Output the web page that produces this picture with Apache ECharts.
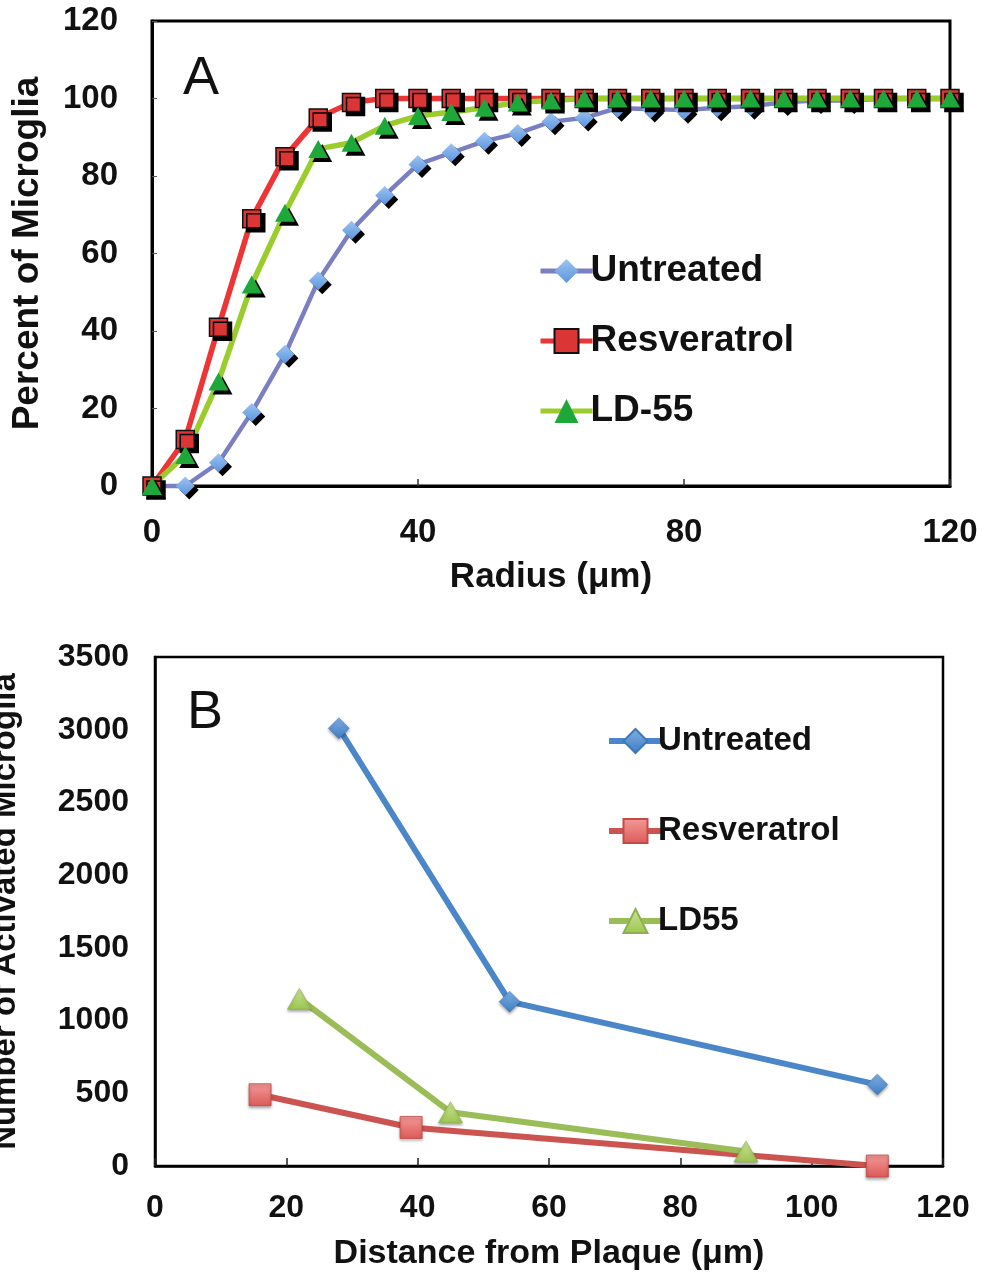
<!DOCTYPE html>
<html>
<head>
<meta charset="utf-8">
<script src="https://cdn.jsdelivr.net/npm/echarts@6/dist/echarts.min.js"></script>
<style>
html,body{margin:0;padding:0;background:#fff;}
#chart{width:986px;height:1277px;}
</style>
</head>
<body>
<div id="chart"></div>
<script>
// ---- Panel A data ----
var radiusA = [0,5,10,15,20,25,30,35,40,45,50,55,60,65,70,75,80,85,90,95,100,105,110,115,120];
var untreatedA = [0,0,6,19,34,53,66,75,83,86,89,91,94,95,97.5,97.3,97,97.6,98,99,99.5,99.5,100,100,100];
var resveratrolA = [0,12,41,69,85,95,99,100,100,100,100,100,100,100,100,100,100,100,100,100,100,100,100,100,100];
var ld55A = [0,8,27,52,70.5,87,88.6,93,95.5,96.5,97.6,99,99.5,100,100,100,100,100,100,100,100,100,100,100,100];
var xTicksA = [0,40,80,120];
var yTicksA = [0,20,40,60,80,100,120];

// ---- Panel B data ----
var untreatedBx = [28,54,110];
var untreatedBy = [3010,1130,560];
var resveratrolBx = [16,39,110];
var resveratrolBy = [490,265,0];
var ld55Bx = [22,45,90];
var ld55By = [1150,370,100];

var seriesNamesA = ['Untreated','Resveratrol','LD-55'];
var seriesNamesB = ['Untreated','Resveratrol','LD55'];

function pairs(xs, ys){ return xs.map(function(x,i){ return [x, ys[i]]; }); }
function plain(v){ return String(v); }

var FONT = '"Liberation Sans", Arial, Helvetica, sans-serif';
var shadowA = {shadowColor:'#000', shadowBlur:0, shadowOffsetX:4, shadowOffsetY:4};

var chart = echarts.init(document.getElementById('chart'), null, {renderer:'canvas'});

var option = {
  backgroundColor:'#fff',
  animation:false,
  textStyle:{fontFamily:FONT},
  grid:[
    {left:152, top:21, width:798, height:465, show:true, borderColor:'#000', borderWidth:3, backgroundColor:'#fff', containLabel:false, outerBoundsMode:'none'},
    {left:155, top:657, width:788, height:509, show:true, borderColor:'#000', borderWidth:2.5, backgroundColor:'#fff', containLabel:false, outerBoundsMode:'none'}
  ],
  xAxis:[
    {type:'value', gridIndex:0, min:0, max:120, interval:40,
     name:'Radius (\u03bcm)', nameLocation:'middle', nameGap:74,
     nameTextStyle:{fontSize:35, fontWeight:'bold', color:'#111', fontFamily:FONT},
     axisLine:{show:true, lineStyle:{color:'#000', width:3}},
     axisTick:{show:true, inside:true, length:7, lineStyle:{color:'#333', width:1.5}},
     axisLabel:{fontSize:33, fontWeight:'bold', color:'#111', margin:30, fontFamily:FONT, formatter:plain},
     splitLine:{show:false}},
    {type:'value', gridIndex:1, min:0, max:120, interval:20,
     name:'Distance from Plaque (\u03bcm)', nameLocation:'middle', nameGap:71,
     nameTextStyle:{fontSize:34, fontWeight:'bold', color:'#111', fontFamily:FONT},
     axisLine:{show:true, lineStyle:{color:'#000', width:2.5}},
     axisTick:{show:true, inside:true, length:8, lineStyle:{color:'#222', width:1.5}},
     axisLabel:{fontSize:32, fontWeight:'bold', color:'#111', margin:26, fontFamily:FONT, formatter:plain},
     splitLine:{show:false}}
  ],
  yAxis:[
    {type:'value', gridIndex:0, min:0, max:120, interval:20,
     name:'Percent of Microglia', nameLocation:'middle', nameGap:106, nameRotate:90,
     nameTextStyle:{fontSize:37, fontWeight:'bold', color:'#111', fontFamily:FONT},
     axisLine:{show:true, lineStyle:{color:'#000', width:3}},
     axisTick:{show:true, inside:true, length:5, lineStyle:{color:'#555', width:1}},
     axisLabel:{fontSize:33, fontWeight:'bold', color:'#111', margin:34, fontFamily:FONT, formatter:plain},
     splitLine:{show:false}},
    {type:'value', gridIndex:1, min:0, max:3500, interval:500,
     name:'Number of Activated Microglia', nameLocation:'middle', nameGap:133, nameRotate:90,
     nameTextStyle:{fontSize:33, fontWeight:'bold', color:'#111', fontFamily:FONT},
     axisLine:{show:true, lineStyle:{color:'#000', width:2.5}},
     axisTick:{show:false},
     axisLabel:{fontSize:32, fontWeight:'bold', color:'#111', margin:26, fontFamily:FONT, formatter:plain},
     splitLine:{show:false}}
  ],
  legend:[
    {orient:'vertical', left:533, top:246, itemWidth:52, itemHeight:30, itemGap:30,
     data:['A:'+seriesNamesA[0],'A:'+seriesNamesA[1],'A:'+seriesNamesA[2]],
     formatter:function(n){return n.replace(/^A:/,'');},
     lineStyle:{width:5},
     itemStyle:{shadowBlur:0, shadowOffsetX:0, shadowOffsetY:0, shadowColor:'rgba(0,0,0,0)'},
     textStyle:{fontSize:37, fontWeight:'bold', color:'#111', lineHeight:40, fontFamily:FONT, padding:[0,0,0,-7]}},
    {orient:'vertical', left:601, top:717, itemWidth:53, itemHeight:30, itemGap:52,
     data:['B:'+seriesNamesB[0],'B:'+seriesNamesB[1],'B:'+seriesNamesB[2]],
     formatter:function(n){return n.replace(/^B:/,'');},
     lineStyle:{width:6},
     textStyle:{fontSize:33, fontWeight:'bold', color:'#111', lineHeight:38, fontFamily:FONT, padding:[0,0,0,-9]}}
  ],
  graphic:[
    {type:'text', left:183, top:52, style:{text:'A', font:'54px '+FONT, fill:'#111'}},
    {type:'text', left:187, top:686, style:{text:'B', font:'54px '+FONT, fill:'#111'}}
  ],
  series:[
    {name:'A:'+seriesNamesA[0], type:'line', xAxisIndex:0, yAxisIndex:0, clip:false,
     data:pairs(radiusA, untreatedA), symbol:'diamond', symbolSize:[19,19],
     lineStyle:{color:'#7a7fc2', width:4.5},
     itemStyle:Object.assign({color:new echarts.graphic.LinearGradient(0,0,0,1,[{offset:0,color:'#9cc4f2'},{offset:1,color:'#5d95dc'}]), borderWidth:0}, shadowA)},
    {name:'A:'+seriesNamesA[1], type:'line', xAxisIndex:0, yAxisIndex:0, clip:false,
     data:pairs(radiusA, resveratrolA), symbol:'rect', symbolSize:18,
     lineStyle:{color:'#ee3535', width:5.5},
     itemStyle:Object.assign({color:'#dc3535', borderColor:'#111', borderWidth:1.5}, shadowA)},
    {name:'A:'+seriesNamesA[2], type:'line', xAxisIndex:0, yAxisIndex:0, clip:false,
     data:pairs(radiusA, ld55A), symbol:'triangle', symbolSize:[20,18],
     lineStyle:{color:'#9acd2c', width:5.5},
     itemStyle:Object.assign({color:'#1fa83a', borderWidth:0}, shadowA)},
    {name:'B:'+seriesNamesB[0], type:'line', xAxisIndex:1, yAxisIndex:1, clip:false,
     data:pairs(untreatedBx, untreatedBy), symbol:'diamond', symbolSize:[21,21],
     lineStyle:{color:'#4a86c8', width:6},
     itemStyle:{color:new echarts.graphic.LinearGradient(0,0,0,1,[{offset:0,color:'#7fb0e6'},{offset:1,color:'#3f7cc0'}]), borderColor:'#3f78b8', borderWidth:0.5, shadowColor:'rgba(0,0,0,0.35)', shadowBlur:3, shadowOffsetY:2}},
    {name:'B:'+seriesNamesB[1], type:'line', xAxisIndex:1, yAxisIndex:1, clip:false,
     data:pairs(resveratrolBx, resveratrolBy), symbol:'rect', symbolSize:22,
     lineStyle:{color:'#cc5450', width:6},
     itemStyle:{color:new echarts.graphic.LinearGradient(0,0,0,1,[{offset:0,color:'#f39a98'},{offset:1,color:'#dc5a58'}]), borderColor:'#c24a47', borderWidth:0.8, shadowColor:'rgba(0,0,0,0.35)', shadowBlur:3, shadowOffsetY:2}},
    {name:'B:'+seriesNamesB[2], type:'line', xAxisIndex:1, yAxisIndex:1, clip:false,
     data:pairs(ld55Bx, ld55By), symbol:'triangle', symbolSize:[24,21],
     lineStyle:{color:'#9bbd58', width:6},
     itemStyle:{color:new echarts.graphic.LinearGradient(0,0,0,1,[{offset:0,color:'#cde79a'},{offset:1,color:'#9cc44e'}]), borderColor:'#8fb04e', borderWidth:0.6, shadowColor:'rgba(0,0,0,0.35)', shadowBlur:3, shadowOffsetY:2}}
  ]
};
chart.setOption(option);
</script>
</body>
</html>
